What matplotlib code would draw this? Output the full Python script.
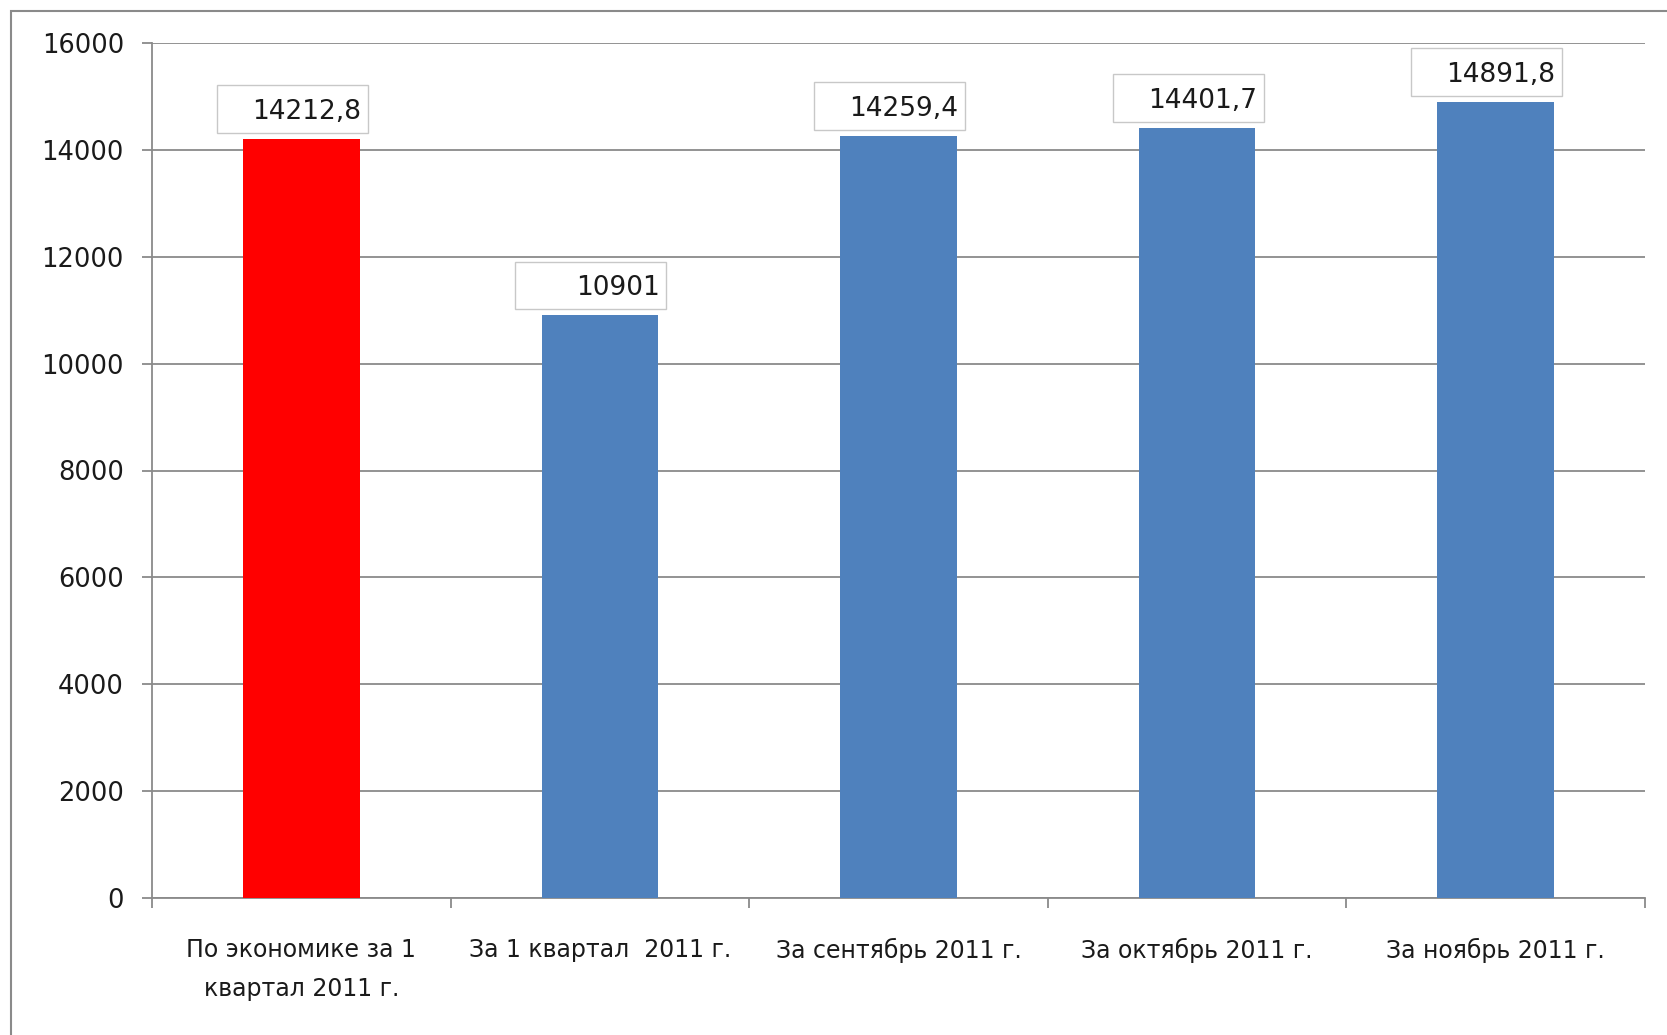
import numpy as np
import matplotlib; matplotlib.use("Agg")
import matplotlib.pyplot as plt
from matplotlib.patches import Rectangle
from matplotlib.ticker import FixedLocator

# ---------- data ----------
categories = ["По экономике за 1\nквартал 2011 г.", "За 1 квартал  2011 г.", "За сентябрь 2011 г.",
              "За октябрь 2011 г.", "За ноябрь 2011 г."]
values = [14212.8, 10901, 14259.4, 14401.7, 14891.8]
value_labels = ["14212,8", "10901", "14259,4", "14401,7", "14891,8"]
bar_colors = ["#FF0000", "#4F81BD", "#4F81BD", "#4F81BD", "#4F81BD"]
yticks = [0, 2000, 4000, 6000, 8000, 10000, 12000, 14000, 16000]

plt.rcParams["font.family"] = ["DejaVu Sans"]
W, H = 1667, 1035
fig = plt.figure(figsize=(W / 100, H / 100), dpi=100)
ax = fig.add_axes([152 / W, 1 - 898 / H, 1493 / W, 855 / H])

grid_col = "#8a8a8a"
x = np.arange(len(categories))
ax.bar(x, values, width=0.39, color=bar_colors, zorder=3)

# data labels in fixed-size boxes, text right aligned
box_w, box_h, gap, shift = 0.506, 898, 112, -0.03
for xi, v, lab in zip(x, values, value_labels):
    x0 = xi + shift - box_w / 2; y0 = v + gap
    ax.add_patch(Rectangle((x0, y0), box_w, box_h, facecolor="white", edgecolor="#c8c8c8", lw=1.0, zorder=4))
    ax.text(x0 + box_w - 0.023, y0 + box_h / 2, lab, ha="right", va="center_baseline",
            fontsize=19, color="#1a1a1a", zorder=5)

ax.set_xlim(-0.5, len(categories) - 0.5); ax.set_ylim(0, 16000)
ax.set_yticks(yticks)
ax.set_xticks(x); ax.set_xticklabels(categories, fontsize=17, linespacing=1.75, color="#1a1a1a")
ax.xaxis.set_minor_locator(FixedLocator(np.arange(-0.5, len(categories), 1.0)))
ax.tick_params(axis="x", which="major", length=0, pad=29)
ax.tick_params(axis="x", which="minor", length=7.2, width=1.3, color=grid_col)
ax.tick_params(axis="y", length=7.2, width=1.3, color=grid_col, pad=13, labelsize=18.5, labelcolor="#1a1a1a")
ax.yaxis.grid(True, color=grid_col, lw=1.3, zorder=0)
ax.set_axisbelow(True)
for s in ("top", "right"):
    ax.spines[s].set_visible(False)
for s in ("left", "bottom"):
    ax.spines[s].set_color(grid_col); ax.spines[s].set_linewidth(1.3)

# outer chart border (right and bottom edges fall outside the picture)
fig.add_artist(Rectangle((11 / W, -0.1), 2, 1 - 11 / H + 0.1, transform=fig.transFigure,
                         fill=False, edgecolor="#8a8a8a", lw=1.5))

fig.savefig("out.png", dpi=100)
